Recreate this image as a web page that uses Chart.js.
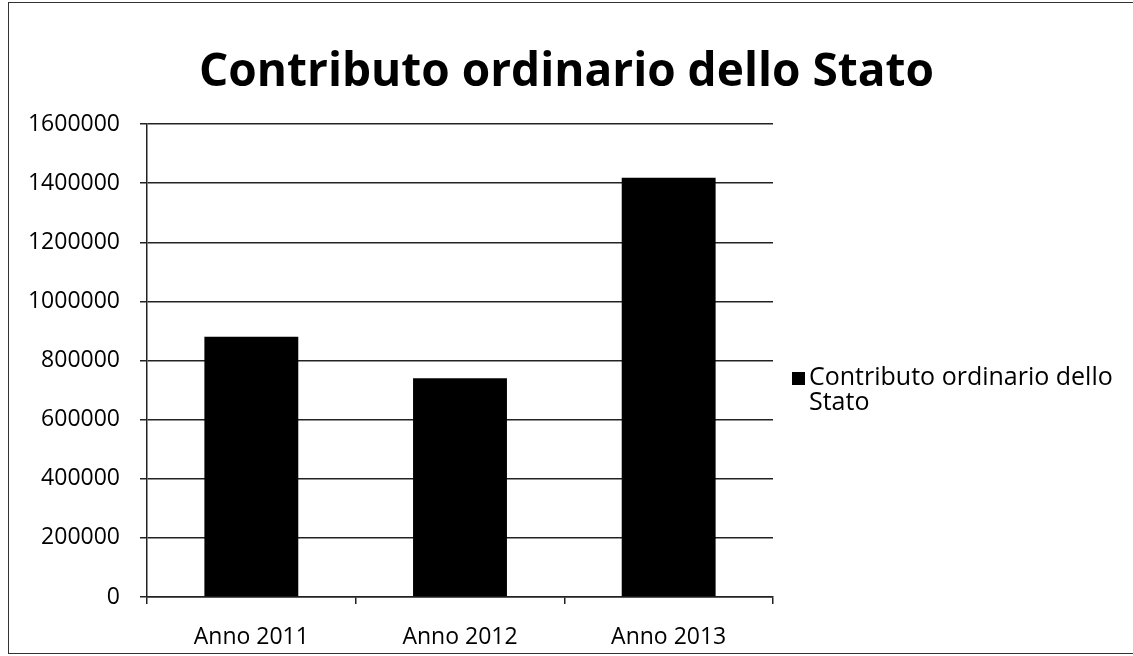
<!DOCTYPE html>
<html>
<head>
<meta charset="utf-8">
<script src="https://cdn.jsdelivr.net/npm/chart.js@4"></script>
<style>
  body { margin: 0; background: #fff; }
  #wrap { position: relative; width: 1133px; height: 656px; overflow: hidden; }
  #frame { position: absolute; left: 8px; top: 2px; width: 1140px; height: 652px; border: 1px solid #333; box-sizing: border-box; }
  #legend { position: absolute; left: 792px; top: 363px; font-family: "Open Sans", sans-serif; font-size: 25px; line-height: 25px; color: #000; }
  #legend .box { display: inline-block; width: 13px; height: 13px; background: #000; margin-right: 4px; }
  #legend .line2 { padding-left: 17px; }
</style>
</head>
<body>
<div id="wrap">
  <canvas id="chart" width="1133" height="656"></canvas>
  <div id="frame"></div>
  <div id="legend">
    <div><span class="box"></span>Contributo ordinario dello</div>
    <div class="line2">Stato</div>
  </div>
</div>
<script>
const titleText = "Contributo ordinario dello Stato";
const seriesName = "Contributo ordinario dello Stato";
const categories = ["Anno 2011", "Anno 2012", "Anno 2013"];
const values = [880000, 740000, 1418000];
const yMin = 0;
const yMax = 1600000;
const yStep = 200000;

const ctx = document.getElementById("chart").getContext("2d");
new Chart(ctx, {
  type: "bar",
  data: {
    labels: categories,
    datasets: [{
      label: seriesName,
      data: values,
      backgroundColor: "#000",
      borderWidth: 0,
      barPercentage: 0.9,
      categoryPercentage: 0.5
    }]
  },
  options: {
    responsive: false,
    animation: false,
    layout: { padding: 0 },
    plugins: {
      legend: { display: false },
      tooltip: { enabled: false },
      title: {
        display: true,
        text: titleText,
        color: "#000",
        font: { family: "Open Sans", size: 46, weight: "bold" },
        padding: { top: 45, bottom: 23.8 }
      }
    },
    scales: {
      x: {
        grid: { display: true, drawOnChartArea: false, drawTicks: true, tickLength: 7, color: "#222", lineWidth: 1.5 },
        border: { display: true, color: "#222", width: 1.5 },
        ticks: { color: "#000", font: { family: "Open Sans", size: 23 }, padding: 20 },
        afterFit: s => { s.height = 59; }
      },
      y: {
        min: yMin,
        max: yMax,
        grid: { color: "#222", lineWidth: 1.5, tickLength: 7 },
        border: { display: true, color: "#222", width: 1.5 },
        ticks: {
          stepSize: yStep,
          color: "#000",
          font: { family: "Open Sans", size: 23 },
          padding: 20,
          callback: v => String(v)
        },
        afterFit: s => { s.width = 147; }
      },
      // empty axis that keeps the room for the legend on the right
      side: {
        type: "linear",
        position: "right",
        display: true,
        grid: { display: false },
        border: { display: false },
        ticks: { display: false },
        afterFit: s => { s.width = 360; }
      }
    }
  }
});
</script>
</body>
</html>
